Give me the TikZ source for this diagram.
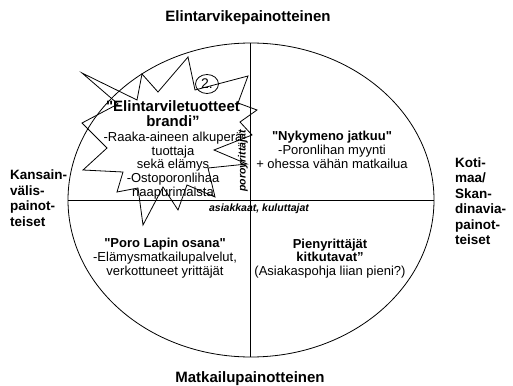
\documentclass[tikz,border=0pt]{standalone}
\usepackage{fontspec}
\setmainfont{Liberation Sans}[Ligatures=TeXOff]
\usetikzlibrary{shapes.geometric}
\begin{document}
\begin{tikzpicture}[x=1pt,y=-1pt,
  frame/.style={line width=0.8pt, black},
  title/.style={font=\fontsize{15}{17}\selectfont\bfseries, inner sep=0pt},
  side/.style={font=\fontsize{13.5}{15.5}\selectfont\bfseries, align=left, inner sep=0pt, anchor=west},
  body/.style={font=\fontsize{13}{13.8}\selectfont, align=center, inner sep=0pt},
  tag/.style={font=\fontsize{10.5}{12}\selectfont\bfseries\itshape, inner sep=0pt},
  ]
\useasboundingbox (0,0) rectangle (513,385);
\fill[white] (0,0) rectangle (513,385);
% quadrant frame
\draw[frame] (251,200) ellipse [x radius=183pt, y radius=157pt];
\coordinate (vt) at (250,43);
\coordinate (vb) at (250,357);
\coordinate (hl) at (68,200);
\coordinate (hr) at (434,200);
\draw[frame] (vt) -- (vb);
\draw[frame] (hl) -- (hr);
% explosion star
\draw[frame] (188,57) -- (195,90) -- (248,76) -- (238,103) -- (257,110)
  -- (240,122) -- (252,135) -- (214,150) -- (247,164) -- (208,168)
  -- (215,197) -- (187,185) -- (178,210) -- (163,187) -- (143,225)
  -- (138,188) -- (117,192) -- (123,172) -- (83,170) -- (107,148)
  -- (82,123) -- (118,104) -- (82,73) -- (137,100) -- (142,74)
  -- (158,92) -- cycle;
\node[draw, ellipse, line width=0.8pt, inner sep=0.3pt, minimum width=23pt, minimum height=19pt,
  font=\fontsize{14}{15}\selectfont] (num) at (207,84) {2.};
% axis titles
\node[title] (ttop) at (248,18) {Elintarvikepainotteinen};
\node[title] (tbot) at (250,379) {Matkailupainotteinen};
\node[side] (tleft) at (10,198) {Kansain-\\välis-\\painot-\\teiset};
\node[side] (tright) at (455,201) {Koti-\\maa/\\Skan-\\dinavia-\\painot-\\teiset};
% quadrant texts
\node[body] (q1) at (173,150) {{\fontsize{15}{15}\selectfont\bfseries "Elintarviletuotteet}\\[1.5pt]{\fontsize{15}{15}\selectfont\bfseries brandi”}\\[0.5pt]-Raaka-aineen alkuperä\\tuottaja\\sekä elämys\\-Ostoporonlihaa\\naapurimaista};
\node[body] (q2) at (332,150) {\textbf{"Nykymeno jatkuu"}\\-Poronlihan myynti\\+ ohessa vähän matkailua};
\node[body] (q3) at (165,258) {\textbf{"Poro Lapin osana"}\\-Elämysmatkailupalvelut,\\verkottuneet yrittäjät};
\node[body] (q4) at (330,258.5) {\textbf{Pienyrittäjät}\\\textbf{kitkutavat”}\\(Asiakaspohja liian pieni?)};
% axis tags
\node[tag, rotate=90] (tv) at (243,161) {poroyrittäjät};
\node[tag] (th) at (259,209) {asiakkaat, kuluttajat};
\end{tikzpicture}
\end{document}
